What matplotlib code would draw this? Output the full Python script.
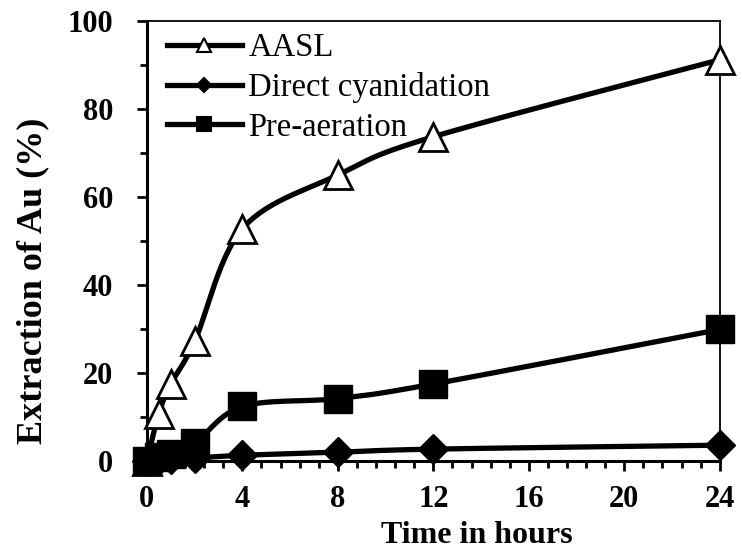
import numpy as np
import matplotlib
matplotlib.use("Agg")
import matplotlib.pyplot as plt
from matplotlib.ticker import MultipleLocator

# Data
time_h = [0, 0.5, 1, 2, 4, 8, 12, 24]
aasl = [0, 10.8, 17.5, 27.2, 52.8, 65.0, 73.7, 91.2]
direct_cyan = [0, 0.3, 0.5, 0.7, 1.3, 2.0, 2.7, 3.6]
pre_aeration = [0, 1.0, 1.5, 4.0, 12.4, 14.2, 17.5, 29.9]

labels = ["AASL", "Direct cyanidation", "Pre-aeration"]
x_ticks = [0, 4, 8, 12, 16, 20, 24]
y_ticks = [0, 20, 40, 60, 80, 100]


def smooth_curve(x, y, sx, sy, n=30):
    """Excel-like smoothed line: Catmull-Rom bezier computed in screen space."""
    p = np.column_stack([np.asarray(x, float) * sx, np.asarray(y, float) * sy])
    pts = []
    for i in range(len(p) - 1):
        p0 = p[i - 1] if i > 0 else p[i]
        p1, p2 = p[i], p[i + 1]
        p3 = p[i + 2] if i + 2 < len(p) else p[i + 1]
        c1 = p1 + (p2 - p0) / 6.0
        c2 = p2 - (p3 - p1) / 6.0
        t = np.linspace(0, 1, n)[:, None]
        seg = ((1 - t) ** 3) * p1 + 3 * ((1 - t) ** 2) * t * c1 + 3 * (1 - t) * t ** 2 * c2 + t ** 3 * p2
        pts.append(seg if i == 0 else seg[1:])
    pts = np.vstack(pts)
    return pts[:, 0] / sx, pts[:, 1] / sy


plt.rcParams['font.family'] = ['Liberation Serif', 'DejaVu Serif']
fig = plt.figure(figsize=(7.42, 5.58), dpi=100)
ax = fig.add_axes([0.198, 0.1738, 0.772, 0.7885])

# screen scale (px per unit) for the smoothing
sx = 573 / 24.0
sy = 440 / 100.0

series = [
    (aasl, dict(marker='^', ms=20, mfc='white', mec='black', mew=2.0)),
    (direct_cyan, dict(marker='D', ms=15, mfc='black', mec='black', mew=1)),
    (pre_aeration, dict(marker='s', ms=20, mfc='black', mec='black', mew=1)),
]

handles = []
for (vals, mk), lab in zip(series, labels):
    xs, ys = smooth_curve(time_h, vals, sx, sy)
    ax.plot(xs, ys, color='black', lw=3.8, clip_on=False, zorder=2)
    ax.plot(time_h, vals, ls='none', clip_on=False, zorder=3, **mk)
    h, = ax.plot([], [], color='black', lw=3.8, label=lab,
                 marker=mk['marker'], ms=mk['ms'] * 0.5, mfc=mk['mfc'],
                 mec='black', mew=1.5)
    handles.append(h)

ax.set_xlim(0, 24)
ax.set_ylim(0, 100)
ax.set_xticks(x_ticks)
ax.set_yticks(y_ticks)
ax.xaxis.set_minor_locator(MultipleLocator(0.8))
ax.yaxis.set_minor_locator(MultipleLocator(10))

ax.tick_params(axis='both', which='both', direction='out', top=False, right=False, color='black')
ax.tick_params(axis='both', which='major', length=7.5, width=2, labelsize=22)
ax.tick_params(axis='both', which='minor', length=5, width=2)
ax.tick_params(axis='x', which='major', pad=10)
ax.tick_params(axis='y', which='major', pad=17)
for lab in ax.get_xticklabels() + ax.get_yticklabels():
    lab.set_fontweight('bold')

for side in ['left', 'bottom']:
    ax.spines[side].set_linewidth(2.2)
for side in ['top', 'right']:
    ax.spines[side].set_linewidth(1.3)

ax.set_xlabel('Time in hours', fontsize=23, fontweight='bold')
ax.set_ylabel('Extraction of Au (%)', fontsize=26, fontweight='bold')
ax.xaxis.set_label_coords(0.576, -0.136)
ax.yaxis.set_label_coords(-0.17, 0.41)

ax.legend(handles=handles, loc='upper left', bbox_to_anchor=(-0.005, 1.025),
          frameon=False, fontsize=23.5, handlelength=2.3, handletextpad=0.2,
          labelspacing=0.27, borderaxespad=0.3)

fig.savefig('out.png', dpi=100)
